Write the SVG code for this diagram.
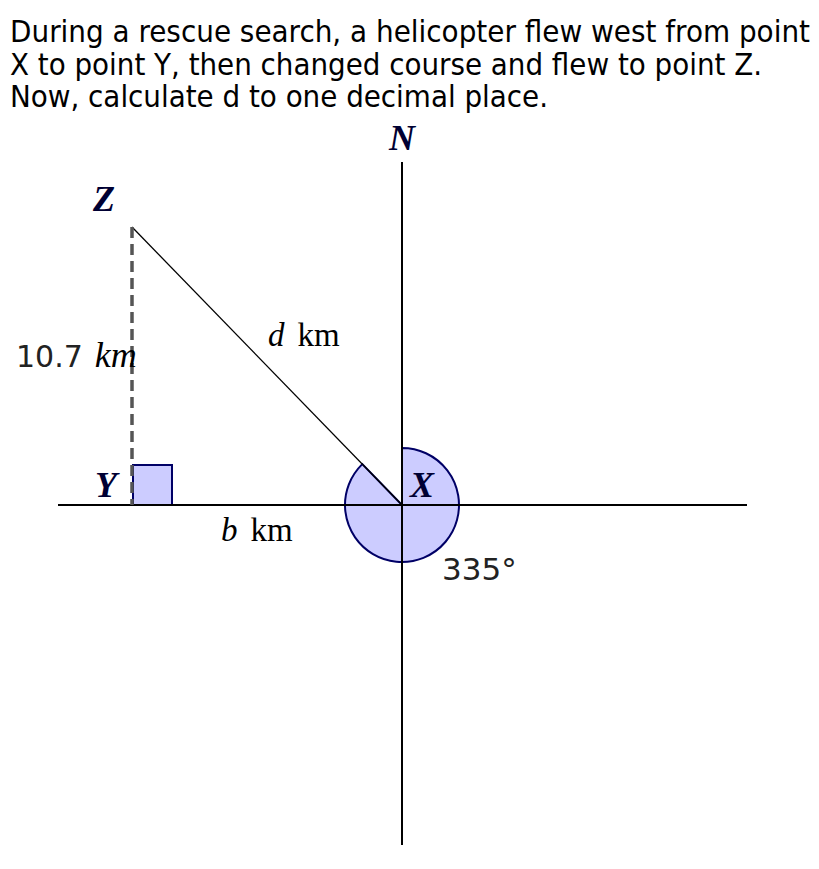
<svg xmlns="http://www.w3.org/2000/svg" width="819" height="869" viewBox="0 0 819 869">
<style>
.title{font-family:"DejaVu Sans Condensed","DejaVu Sans",sans-serif;font-stretch:condensed;font-size:30px;fill:#000}
.var{font-family:"Liberation Serif",serif;font-style:italic;font-weight:bold;font-size:36px;fill:#000033}
.unit{font-family:"Liberation Serif",serif;font-size:33px;fill:#000}
.it{font-family:"Liberation Serif",serif;font-style:italic;font-size:33px;fill:#000}
.num{font-family:"DejaVu Sans",sans-serif;font-size:30px;fill:#222}
.axis{stroke:#000;stroke-width:2;fill:none}
.shade{fill:#ccccff;stroke:#000066;stroke-width:2}
</style>
<rect width="819" height="869" fill="#fff"/>
<g id="question">
<text class="title" x="10" y="42" textLength="800" lengthAdjust="spacingAndGlyphs">During a rescue search, a helicopter flew west from point</text>
<text class="title" x="10" y="75" textLength="752" lengthAdjust="spacingAndGlyphs">X to point Y, then changed course and flew to point Z.</text>
<text class="title" x="10" y="107" textLength="538" lengthAdjust="spacingAndGlyphs">Now, calculate d to one decimal place.</text>
</g>
<g id="angle-sector">
<path class="shade" d="M402,505 L402,448 A57,57 0 1,1 362.3,464.1 Z"/>
</g>
<g id="right-angle">
<rect class="shade" x="133" y="465" width="39" height="40"/>
</g>
<g id="connectors">
<line class="axis" x1="58" y1="505" x2="747" y2="505"/>
<line class="axis" x1="402" y1="162" x2="402" y2="845"/>
<line x1="132" y1="227" x2="402" y2="505" stroke="#000" stroke-width="1.3"/>
<line x1="132" y1="227" x2="132" y2="505" stroke="#555" stroke-width="3.5" stroke-dasharray="11,6"/>
</g>
<g id="N"><text class="var" x="389" y="150">N</text></g>
<g id="Z"><text class="var" x="93" y="211">Z</text></g>
<g id="Y"><text class="var" x="95" y="497">Y</text></g>
<g id="X"><text class="var" x="410" y="497">X</text></g>
<g id="label-d"><text x="268" y="346"><tspan class="it">d</tspan><tspan class="unit" dx="13">km</tspan></text></g>
<g id="label-b"><text x="221" y="541"><tspan class="it">b</tspan><tspan class="unit" dx="13">km</tspan></text></g>
<g id="label-10-7"><text x="16" y="367"><tspan class="num">10.7</tspan><tspan class="it" dx="12" style="font-size:36px">km</tspan></text></g>
<g id="label-335"><text class="num" x="442" y="580" style="font-size:31px">335°</text></g>
</svg>
